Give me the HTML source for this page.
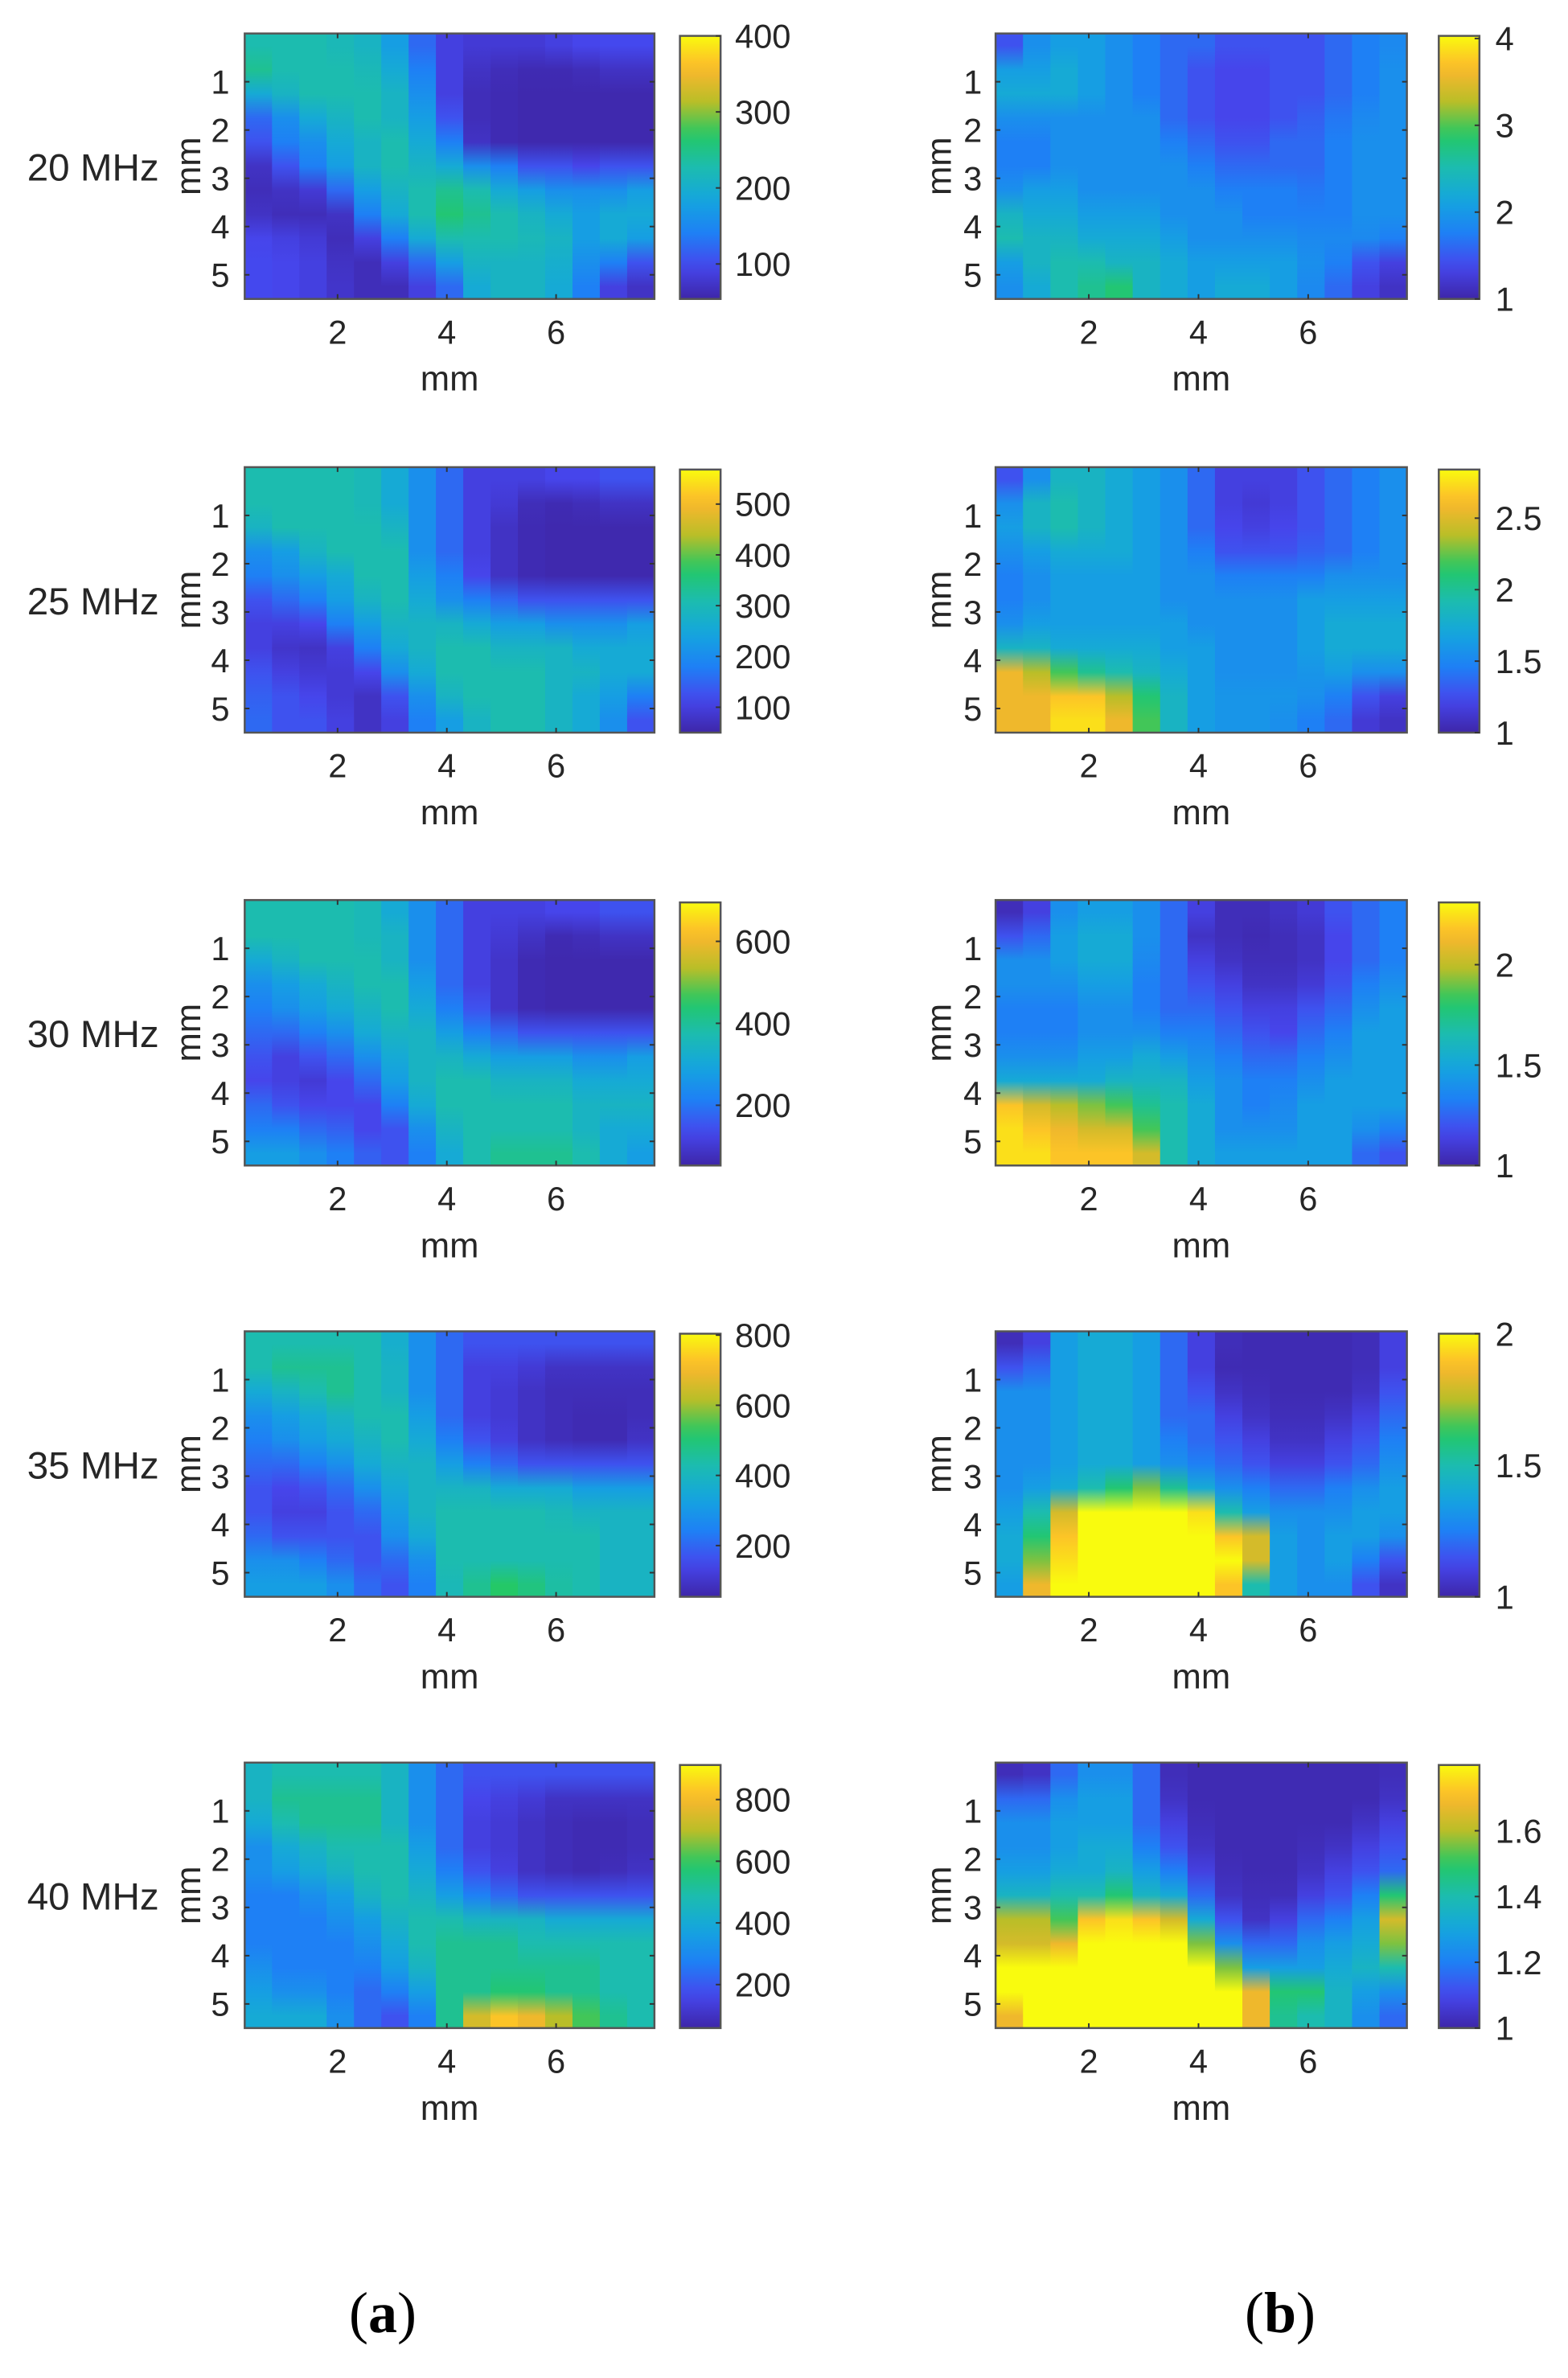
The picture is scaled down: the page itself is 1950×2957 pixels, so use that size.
<!DOCTYPE html>
<html><head><meta charset="utf-8">
<style>
html,body{margin:0;padding:0;background:#fff;}
svg{display:block;}
text{font-family:"Liberation Sans",Arial,sans-serif;fill:#262626;}
</style></head>
<body>
<svg id="fig" width="1950" height="2957" viewBox="0 0 1950 2957" xmlns="http://www.w3.org/2000/svg">
<defs id="defs"></defs>
<g id="main" transform="scale(0.9913)"></g>
<text x="476" y="2900" text-anchor="middle" style="font-family:'Liberation Serif',serif;font-size:72px;fill:#000">(<tspan font-weight="bold">a</tspan>)</text>
<text x="1592" y="2900" text-anchor="middle" style="font-family:'Liberation Serif',serif;font-size:72px;fill:#000">(<tspan font-weight="bold">b</tspan>)</text>
</svg>
<script>
// frequency labels per row
const freqLabels = ["20 MHz","25 MHz","30 MHz","35 MHz","40 MHz"];
const xTicks = [2,4,6];
const yTicks = [1,2,3,4,5];
const xDomain = [0.3,7.8];
const yDomain = [0,5.5];
// colour levels 0..10, column-major: 15 columns (0.5 mm) x 11 rows (0.5 mm)
const a20 = [[5,5.5,4,2,1.5,0.5,0.3,0.5,1.2,1.3,1.3],[5,5,4.5,3,2.5,1.5,0.5,0.3,1,1.2,1.2],[5,5,5,4,3,2.5,0.8,0.3,0.8,1,1],[4.8,5,5,4.5,4,3.5,2,0.5,0.3,0.5,0.6],[4.5,4.8,5,5,4.5,4.5,3.5,2.5,1,0.3,0.3],[3.5,4,4.5,4.5,5,5,4.5,4,2.5,1,0.3],[2,2.5,3,3.5,4,4.5,5,5,4,2,1],[1,1,1,1.5,2.5,4,5.5,6,5,3.5,2],[0.8,0.5,0.3,0.3,0.5,3,5,5.5,5,4.5,4],[0.8,0.3,0.2,0.2,0.2,2.5,4,5,5,4.5,4.5],[0.8,0.2,0.1,0.1,0.1,1.5,3.5,4.5,4.8,4.5,4.5],[1,0.2,0.1,0.1,0.1,1.5,3,4,4.5,4.2,4],[1.2,0.3,0.1,0.1,0.1,1.2,3,3.5,3.5,3,2.5],[1.3,0.5,0.1,0.1,0.1,1.5,3,4,4,2.5,1],[1.3,0.5,0.1,0.1,0.1,1.5,3.5,4,3.5,1.5,0.5]];
const b20 = [[1.5,3.5,4,3,2.5,2.5,3,4.5,5,3.5,3],[3,3.5,4,3,2.5,2.5,3.5,4,4.5,4.5,4],[3.5,4,4,3,3,3,3.5,4,4.5,5,5],[3.5,3.5,3.5,3,3,3,3,3.5,4,5,5.5],[3,3,3,3,3,3,3,3.5,4,4.5,6],[2.5,2.5,2.5,3,3,3,3,3.5,4,4.5,4.5],[2,2,2,2,2.5,3,3,3,3.5,4,4],[2,1.5,1.5,1.5,2,2.5,3,3,3,3.5,3.5],[1.5,1.2,1.2,1.2,1.5,2,2.5,3,3,3.5,4],[1.5,1.2,1.2,1.2,1.5,2,2.5,2.5,3,3.5,4],[1.5,1.5,1.5,1.5,2,2,2.5,2.5,3,3.5,3.5],[1.5,1.5,1.5,1.8,2,2,2.3,2.5,2.8,3,2.8],[2,2,2,2.3,2.5,2.5,2.5,2.5,2.8,2.5,2],[2.5,2.5,2.5,2.8,3,3,3,3,2.8,1.5,1],[2.8,3,3,3,3,3,3,3,2.5,1,0.5]];
const a25 = [[5,5,4.5,3,2.5,1.5,1,1,1.5,1.8,2],[5,5,5,3.5,3,2,1,0.6,1,1.5,1.5],[5,5,5,4.5,3.5,2.5,1.2,0.5,0.8,1.2,1.5],[5,5,5,5,4,3.5,2.5,1,0.8,0.8,1],[4.8,4.8,5,5,5,4.5,3.5,2.5,1.2,0.5,0.5],[4,4,4.5,5,5,5,4.5,4,3,1.5,1],[3,3,3,3,3.5,4,4.5,4.5,4,3,2.5],[2,2,2,2,2.5,3,4.5,5,5,4.5,3.5],[1,1,1,1,1.2,2.5,4,5,5,5,4.5],[1,0.8,0.5,0.5,0.5,2,3.5,4.5,5,5,5],[1,0.3,0.2,0.2,0.2,1.5,3.5,4.5,5,5,5],[1.2,0.2,0.1,0.1,0.1,1.5,3,4.5,4.5,4.5,4.5],[1.2,0.3,0.1,0.1,0.1,1.5,3,4,4.5,4,4],[1.5,0.5,0.1,0.1,0.1,1.5,3,4,4,3.5,3],[1.5,0.5,0.1,0.1,0.1,1.5,3.5,4,4,2.5,1.5]];
const b25 = [[1.5,3,3.5,3,2.5,2.5,3,4.5,8.5,8.5,8.5],[3,4.5,4.5,3.5,3,3,3.5,4.5,7.5,8.5,8.5],[4.5,5,5,4,3.5,3.5,3.5,4,6.5,9,9.5],[4.5,4.5,4.5,4,3.5,3.5,3.5,4,5.5,9,9.5],[4,4,4,4,3.5,3.5,3.5,4,5,7.5,8.5],[3.5,3.5,3.5,3.5,3.5,3.5,3.5,4,4.5,6,6.5],[3,3,3,3,3,3,3.5,3.5,4,4.5,4.5],[2,2,2,2.5,3,3,3,3.5,3.5,3.5,3.5],[1,1,1.2,1.5,2.5,3,3,3,3,3.2,3.2],[1,0.8,1,1.5,2.5,3,3,3,3,3.2,3.2],[1,1,1.2,1.5,2.5,3,3,3,3,3.2,3],[1.5,1.5,1.5,1.8,2.5,3.5,3.5,3.5,3.2,3,2.5],[2,2,2,2,3,3.5,4,4,3.5,2.5,2],[2.5,2.5,2.5,2.5,3,3.5,4,4,3,1.5,0.8],[3,3,3,3,3,3.5,4,4,3,1,0.5]];
const a30 = [[5,5,4,3,2.5,2,1.5,1.2,2,2.5,3.5],[5,5,4.5,3.5,3,2,1,1,1.5,2.5,3.5],[5,5,5,4,3.5,2.5,1.5,0.8,1.2,2,3],[5,5,5,4.5,4,3,2,1.2,1.2,1.8,2.5],[4.8,4.8,5,5,4.5,4,3,2,1.2,1.2,1.8],[4,4.5,4.5,5,5,4.5,4,3.5,2.5,1.5,1.5],[3,3,3,3.5,4,4.5,4.5,4.5,4,3,2.5],[2,2,2,2,2.5,3.5,4.5,5,5,4.5,4],[1,1,1,1,1.5,2.5,4,5,5,5,5],[1,0.8,0.6,0.6,0.6,2,3.5,4.5,5,5,5.5],[1,0.5,0.2,0.2,0.2,1.5,3.5,4.5,5,5,5.5],[1.2,0.2,0.1,0.1,0.1,1.5,3.5,4.5,5,5,5.5],[1.2,0.3,0.1,0.1,0.1,1.5,3,4,4.5,4.5,5],[1.5,0.5,0.1,0.1,0.1,1.5,3,4,4.5,4,4],[1.5,0.5,0.1,0.1,0.1,1.5,3.5,4,4.5,4,3.5]];
const b30 = [[0.3,1.5,3,3,2.5,2.5,3,4,9,9.5,9.5],[1,2,3,3,2.5,2.5,3,4,8,9,9.5],[3,3.5,3.5,3,2.5,2.5,3,4,7.5,8.5,9],[3.5,4,4,3.5,3,3,3.5,4,7,8,9],[3.5,4,4,3.5,3,3,3.5,4.5,6.5,8,9],[3,3,2.8,2.5,2.5,3,4,4.5,5.5,6.5,8],[2,2,2,2,2,2.5,3.5,4.5,5,5,5],[1,0.5,1,1.5,2,2.5,3,3.5,4,4,4],[0.3,0.3,0.5,1,1.5,2,2.5,3,3,3,3.5],[0.3,0.2,0.3,0.5,1,1.5,2,2.5,2.5,3,3.5],[0.5,0.3,0.3,0.5,1,1.2,2,2.5,2.8,3,3.5],[0.8,0.5,0.5,0.8,1.5,2,2.5,3,3.5,3.5,3.5],[1.5,1.2,1.2,1.5,2,2.5,3,3.5,3.5,3.5,3.5],[2,2,2,2.5,3,3.5,3.5,3.5,3.5,3,2],[2.5,2.5,2.5,3,3.5,3.5,3.5,3.5,3.5,2.5,1.5]];
const a35 = [[5,5,4,3,2.5,2,1.5,1.5,2,3,3.5],[5,5.5,4.5,3.5,3,2,1.2,1,1.5,3,3.5],[5,5.5,5,4,3.5,2.5,1.5,1,1.5,2.5,3.5],[5,5.5,5.5,4.5,4,3,2,1.5,1.5,2,3],[5,5,5,5,4.5,4,3,2,1.5,1.5,2],[4.2,4.5,4.5,5,5,4.5,4,3.5,3,2,1.5],[3,3,3,3.5,4,4.5,4.5,4.5,4,3,2.5],[2,2,2,2,2.5,3.5,4.5,5,5,5,4.8],[1.5,1,1,1,1.5,2.5,4.5,5,5,5,5.5],[1.5,1,0.8,0.8,1,2,4,5,5,5,6.2],[1.5,0.8,0.5,0.5,0.5,1.5,4,5,5,5,5.8],[1.5,0.5,0.3,0.3,0.3,1.5,4,4.8,5,5,5.2],[1.5,0.5,0.3,0.2,0.2,1.5,3.5,4.5,5,5,5],[1.5,0.5,0.3,0.2,0.2,1.5,3.5,4.5,4.5,4.5,4.5],[1.5,0.5,0.3,0.3,0.5,1.5,3.5,4.5,4.5,4.5,4.5]];
const b35 = [[0.3,1.5,3,3,3,3,3,3.5,4,4,3.5],[1,2,3,3,3,3,3.5,5,6,7,8.5],[3.5,3.5,3.5,3.5,3.5,3.5,4,8,9,9.5,10],[4,4,4,4,4,4,5,10,10,10,10],[4,4,4,4,4,4,6,10,10,10,10],[3.5,3.5,3.5,3.5,3.5,3.5,7,10,10,10,10],[2,2,2,2,2.5,3,5.5,10,10,10,10],[1,1,1.5,2,2,2.5,4,9.5,10,10,10],[0.3,0.2,0.5,1,1.5,2,3,5,9,10,9],[0.2,0.2,0.3,0.5,1,1.5,2.5,3.5,8,8,5],[0.2,0.2,0.2,0.3,0.5,1,2,3,3.5,3.5,3.5],[0.2,0.2,0.2,0.3,0.5,1,2,3,3,3,3],[0.2,0.2,0.2,0.5,1,1.5,2.5,3,3.5,3.5,3],[0.3,0.3,0.5,1,1.5,2,3,3.5,3.5,2.5,1.5],[1,1,1.5,2,2.5,3,3.5,3.5,3,1.5,0.5]];
const a40 = [[4.5,4.5,4,3,3,2.5,2.5,2.5,3,3.5,4],[5,5.5,5,4,3.5,2.5,2.5,2.5,2.5,3,4],[5,5.5,5.5,4.5,4,3,2.5,2.5,2.5,3,4],[5,5.5,5.5,5,4.5,3.5,3,2.5,2.5,2.5,3],[5,5.5,5.5,5,5,4.5,3.5,3,2.5,2,2],[4.5,4.5,4.5,5,5,5,4.5,4,3.5,2.5,1.5],[3,3,3,3.5,4,4.5,5,5,4.5,3.5,2.5],[2,2,2,2,2.5,3.5,5,5.5,5.5,5.5,5.5],[1.5,1.2,1,1,1.5,2.5,4.5,5.5,5.5,5.5,8],[1.5,1,0.8,0.8,1,2,4.5,5.5,5.5,6,9],[1.5,0.8,0.5,0.5,0.5,1.5,4.5,5,5.5,6,8.5],[1.5,0.5,0.3,0.3,0.3,1.5,4,5,5.5,5.5,7.5],[1.5,0.5,0.2,0.2,0.2,1.5,4,5,5.5,5.5,6.5],[1.5,0.5,0.2,0.2,0.3,1.5,4,5,5,5,5.5],[1.5,0.5,0.3,0.3,0.5,1.5,4,5,5,5,5]];
const b40 = [[0.3,2,3,3,3.5,4.5,7.5,8,10,10,8.5],[0.5,2,3,3,3.5,4.5,7.5,8,10,10,10],[2,3,3.5,3.5,4,5,6.5,8.5,10,10,10],[3,3.5,3.5,4,4,5,9,10,10,10,10],[3,3.5,3.5,4,4.5,6,9.5,10,10,10,10],[2,2,2,2.5,3.5,4.5,9,10,10,10,10],[0.3,0.5,1,1.5,2.5,4,8,10,10,10,10],[0.2,0.2,0.3,0.5,1,2,4,7,10,10,10],[0.2,0.2,0.2,0.2,0.3,0.5,1.5,3,7,10,10],[0.2,0.2,0.2,0.2,0.2,0.3,0.5,2,3.5,8.5,8.5],[0.2,0.2,0.2,0.2,0.2,0.3,1,2,3.5,6,5.5],[0.2,0.2,0.2,0.3,0.5,1,2,3,3.5,6,5],[0.2,0.2,0.2,0.5,1,1.5,2.5,3.5,4,4.5,4.5],[0.2,0.2,0.5,1,1.5,2.5,3.5,4,4.5,3.5,3],[0.3,0.5,1,1.5,2,6,8,7,5,3,2]];
// colorbar ranges and tick labels
const cbRangeA = [[54,400],[50,568],[53,695],[54,804],[59,912]];
const cbTicksA = [[100,200,300,400],[100,200,300,400,500],[200,400,600],[200,400,600,800],[200,400,600,800]];
const cbRangeB = [[1,4.03],[1,2.84],[1,2.31],[1,2],[1,1.8]];
const cbTicksB = [[1,2,3,4],[1,1.5,2,2.5],[1,1.5,2],[1,1.5,2],[1,1.2,1.4,1.6]];

const gridsA=[a20,a25,a30,a35,a40], gridsB=[b20,b25,b30,b35,b40];
const NS='http://www.w3.org/2000/svg';
const svg=document.getElementById('main'), defs=document.getElementById('defs');
const cmap=[[0,[62,38,168]],[0.125,[70,70,238]],[0.25,[30,128,245]],[0.375,[20,166,222]],[0.5,[28,188,175]],[0.625,[36,200,100]],[0.75,[185,190,40]],[0.875,[253,182,45]],[1,[249,251,14]]];
function color(t){t=Math.max(0,Math.min(1,t));for(let i=1;i<cmap.length;i++){if(t<=cmap[i][0]){const a=cmap[i-1],b=cmap[i],f=(t-a[0])/(b[0]-a[0]);const c=a[1].map((v,k)=>Math.round(v+(b[1][k]-v)*f));return 'rgb('+c.join(',')+')';}}return 'rgb(249,251,14)';}
function el(tag,attrs,parent){const e=document.createElementNS(NS,tag);for(const k in attrs)e.setAttribute(k,attrs[k]);(parent||svg).appendChild(e);return e;}
const tops=[42,586,1129,1670,2211], H=333;
const cols=[{hx:307,hw:514,cbx:853,cblab:922,ylab:288,ymm:236,grids:gridsA,rng:cbRangeA,tk:cbTicksA,id:'a'},{hx:1249,hw:516,cbx:1805,cblab:1876,ylab:1232,ymm:1178,grids:gridsB,rng:cbRangeB,tk:cbTicksB,id:'b'}];
let gid=0;
// colorbar gradient
const cg=el('linearGradient',{id:'cbg',x1:0,y1:1,x2:0,y2:0},defs);
for(let i=0;i<=20;i++){el('stop',{offset:i/20,'stop-color':color(i/20)},cg);}
cols.forEach(c=>{
  tops.forEach((top,r)=>{
    const g=el('g',{});
    
    
    const xs=v=>c.hx+(v-xDomain[0])/(xDomain[1]-xDomain[0])*c.hw;
    const ys=v=>top+(v-yDomain[0])/(yDomain[1]-yDomain[0])*H;
    const grid=c.grids[r];
    grid.forEach((colv,ci)=>{
      const id='g'+(gid++);
      const lg=el('linearGradient',{id:id,x1:0,y1:0,x2:0,y2:1},defs);
      const n=colv.length;
      colv.forEach((v,ri)=>{el('stop',{offset:((ri+0.5)/n).toFixed(4),'stop-color':color(v/10)},lg);});
      const x0=xs(xDomain[0]+ci*0.5), x1=xs(xDomain[0]+(ci+1)*0.5);
      const rc=el('rect',{x:x0.toFixed(2),y:top,width:(x1-x0+0.6).toFixed(2),height:H,fill:'url(#'+id+')'},g);
      
      
    });
    el('rect',{x:c.hx,y:top,width:c.hw,height:H,fill:'none',stroke:'#555',"stroke-width":2.5},g);
    xTicks.forEach(t=>{const x=xs(t);
      el('line',{x1:x,y1:top+H,x2:x,y2:top+H-6,stroke:'#333','stroke-width':2},g);
      el('line',{x1:x,y1:top,x2:x,y2:top+6,stroke:'#333','stroke-width':2},g);
      const tx=el('text',{x:x,y:top+H+56,'text-anchor':'middle','font-size':42},g);tx.textContent=t;
      
      });
    yTicks.forEach(t=>{const y=ys(t);
      el('line',{x1:c.hx,y1:y,x2:c.hx+6,y2:y,stroke:'#333','stroke-width':2},g);
      el('line',{x1:c.hx+c.hw,y1:y,x2:c.hx+c.hw-6,y2:y,stroke:'#333','stroke-width':2},g);
      const ty=el('text',{x:c.ylab,y:y+15,'text-anchor':'end','font-size':42},g);ty.textContent=t;
      
      });
    const xl=el('text',{x:c.hx+c.hw/2,y:top+H+115,'text-anchor':'middle','font-size':44},g);xl.textContent='mm';
    
    
    const yl=el('text',{x:c.ymm+15,y:top+H/2,'text-anchor':'middle','font-size':44,transform:'rotate(-90 '+(c.ymm+15)+' '+(top+H/2)+')'},g);yl.textContent='mm';
    
    
    if(c.id==='a'){const fl=el('text',{x:34,y:top+H/2+18,'font-size':48},g);fl.textContent=freqLabels[r];
      
      }
    // colorbar
    const cb=el('g',{},svg);
    
    
    el('rect',{x:c.cbx,y:top+3,width:51,height:H-3,fill:'url(#cbg)',stroke:'#555','stroke-width':2.5},cb);
    const [mn,mx]=c.rng[r];
    const cy=v=>top+H-(v-mn)/(mx-mn)*(H-3);
    c.tk[r].forEach(t=>{const y=cy(t);
      el('line',{x1:c.cbx+51,y1:y,x2:c.cbx+45,y2:y,stroke:'#333','stroke-width':2},cb);
      const tt=el('text',{x:c.cblab,y:y+15,'font-size':42},cb);tt.textContent=t;
      
      });
  });
});
</script>
</body></html>
